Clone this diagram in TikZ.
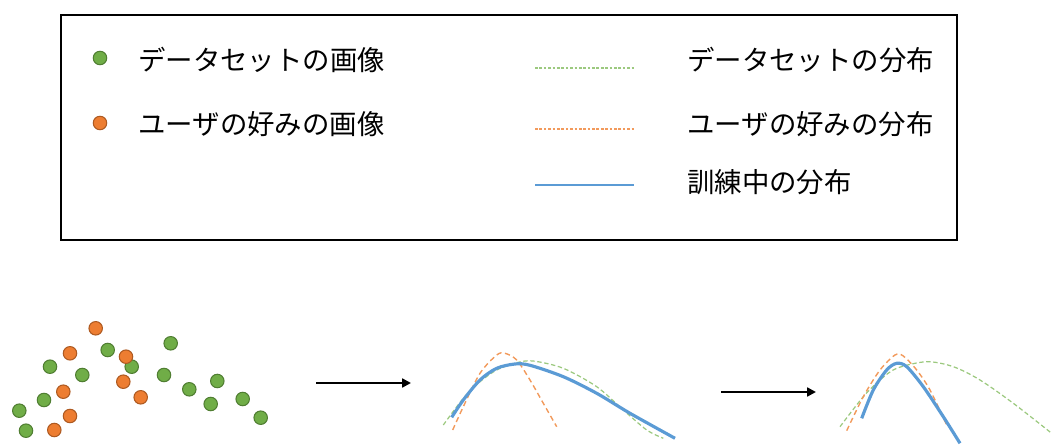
\documentclass[tikz,border=0pt]{standalone}
\usepackage{fontspec}
\setmainfont{Noto Sans CJK JP}
\usetikzlibrary{arrows.meta}
\definecolor{vert}{HTML}{70AD47}
\definecolor{vertfonce}{HTML}{507E32}
\definecolor{orange}{HTML}{ED7D31}
\definecolor{orangefonce}{HTML}{AE5A21}
\definecolor{bleu}{HTML}{5B9BD5}
\definecolor{vertclair}{HTML}{9CC97F}
\definecolor{orangeclair}{HTML}{F29A5C}
\begin{document}
\begin{tikzpicture}[x=0.02cm, y=-0.02cm]
\tikzset{ptdata/.style={circle, fill=vert, draw=vertfonce, line width=0.6pt, minimum size=0.27cm, inner sep=0pt}}
\tikzset{ptuser/.style={circle, fill=orange, draw=orangefonce, line width=0.6pt, minimum size=0.27cm, inner sep=0pt}}
\tikzset{legende/.style={anchor=west, inner sep=0pt, font=\fontsize{15.6pt}{18pt}\selectfont}}
\tikzset{distdata/.style={draw=vertclair, line width=0.7pt, dash pattern=on 2.5pt off 1.5pt}}
\tikzset{distuser/.style={draw=orangeclair, line width=0.8pt, dash pattern=on 3pt off 2pt}}
\tikzset{disttrain/.style={draw=bleu, line width=1.8pt}}
\tikzset{fleche/.style={line width=1.4pt, -{Triangle[length=5pt, width=5pt]}}}
\useasboundingbox (0,0) rectangle (1052,445);
% legende
\draw[line width=0.9pt] (61,15) rectangle (957,240);
\node[ptdata] (L1) at (100,58) {};
\node[legende] (T1) at (138,60) {データセットの画像};
\node[ptuser] (L2) at (100,123) {};
\node[legende] (T2) at (138,124) {ユーザの好みの画像};
\draw[distdata, line width=0.6pt, dash pattern=on 1.5pt off 1pt] (535,68) -- (634,68);
\node[legende] (T3) at (687,60) {データセットの分布};
\draw[distuser, line width=0.6pt, dash pattern=on 1.5pt off 1pt] (535,129) -- (634,129);
\node[legende] (T4) at (687,124) {ユーザの好みの分布};
\draw[disttrain, line width=1.5pt] (535,185) -- (634,185);
\node[legende] (T5) at (687,182) {訓練中の分布};
% nuage de points
\foreach \x/\y [count=\i] in {170.7/343.3, 107.7/350, 50/366.7, 131.7/366.7, 82.3/375, 164/375, 44/400, 19.3/410.7, 26/430.7, 189.3/389.3, 217.3/381, 210.7/404, 242.7/399, 260.7/417.7}
  \node[ptdata] (D\i) at (\x,\y) {};
\foreach \x/\y [count=\i] in {95.7/328.3, 70/353.3, 126/356.7, 63.3/391.7, 123.3/381.7, 140.7/397.3, 70/416, 54.3/430}
  \node[ptuser] (U\i) at (\x,\y) {};
% fleches
\coordinate (A1) at (316,383);
\coordinate (A2) at (411,383);
\coordinate (B1) at (721,392);
\coordinate (B2) at (816,392);
\draw[fleche] (A1) -- (A2);
\draw[fleche] (B1) -- (B2);
% distributions, etape 1
\draw[distdata] plot[smooth] coordinates {(443.3,425) (463.3,398.3) (480,381.7) (496.7,370) (516.7,362.7) (533.3,361) (563.3,368.3) (596.7,386.7) (623.3,410) (646.7,430) (663.3,438.3)};
\draw[distuser] plot[smooth] coordinates {(452.7,430) (463.3,406.7) (480,373.3) (496.7,355) (505,353.3) (516.7,360) (530,380) (543.3,403.3) (556.7,426.7)};
\draw[disttrain] plot[smooth] coordinates {(451.7,417.3) (463.3,400) (480,380) (496.7,368.3) (515,364) (530,365.3) (563.3,376.7) (596.7,393.3) (630,413.3) (675,438.3)};
% distributions, etape 2
\draw[distdata] plot[smooth] coordinates {(840,426.7) (863.3,396.7) (880,380) (896.7,368.3) (926.7,361.7) (953.3,366.7) (980,380) (1013.3,403.3) (1051.7,433.3)};
\draw[distuser] plot[smooth] coordinates {(846.7,430.7) (863.3,396.7) (880,370) (895,355) (903.3,356) (916.7,370) (930,390) (946.7,425)};
\draw[disttrain] plot[smooth] coordinates {(861.7,418.3) (873.3,390) (886.7,370) (896.7,363.3) (906.7,366.7) (923.3,386.7) (943.3,416.7) (960,443.3)};
\end{tikzpicture}
\end{document}
